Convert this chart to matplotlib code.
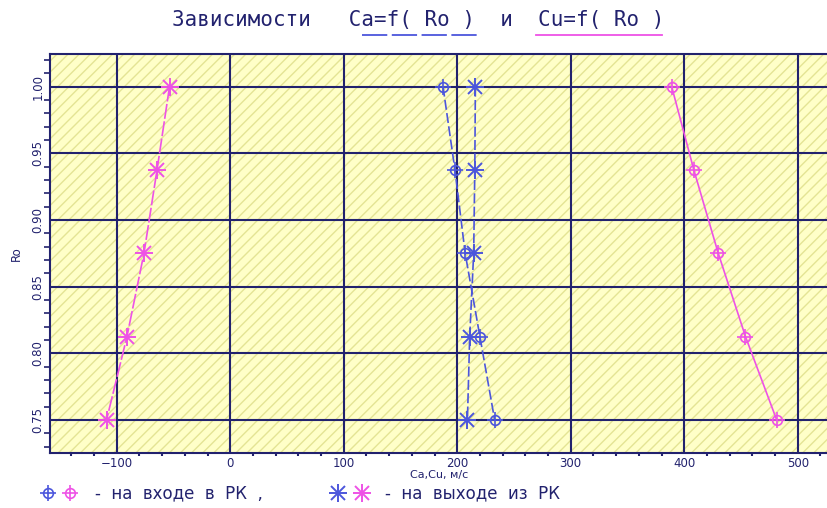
import matplotlib
matplotlib.use("Agg")
import matplotlib.pyplot as plt
from matplotlib.lines import Line2D
from matplotlib.patches import Rectangle
from matplotlib.ticker import MultipleLocator, FormatStrFormatter

# значения по высоте лопатки
ro = [1.0, 0.9375, 0.875, 0.8125, 0.75]

# осевая и окружная составляющие скорости, м/с
ca_in = [187.5, 198, 207, 220, 233]
ca_out = [216, 215.5, 214.5, 211, 209]
cu_in = [389, 408.5, 430, 454, 481.5]
cu_out = [-53.5, -64.5, -76, -91, -109]

NAVY = "#22226e"
BLUE = "#4c56dc"
MAGENTA = "#ee52e6"

plt.rcParams["font.family"] = ["DejaVu Sans"]
plt.rcParams["hatch.color"] = "#e4e494"
plt.rcParams["hatch.linewidth"] = 1.0

fig = plt.figure(figsize=(8.28, 5.08), dpi=100)
ax = fig.add_axes([50 / 828, 55 / 508, 778 / 828, 399 / 508])

# жёлтый фон со штриховкой
ax.patch.set_visible(False)
ax.add_patch(Rectangle((0, 0), 1, 1, transform=ax.transAxes, facecolor="#ffffc8",
                       edgecolor="#e4e494", hatch="///", linewidth=0, zorder=0))

ax.set_xlim(-158.8, 526.7)
ax.set_ylim(0.7252, 1.0245)

ax.xaxis.set_major_locator(MultipleLocator(100))
ax.xaxis.set_minor_locator(MultipleLocator(20))
ax.yaxis.set_major_locator(MultipleLocator(0.05))
ax.yaxis.set_minor_locator(MultipleLocator(0.01))
ax.yaxis.set_major_formatter(FormatStrFormatter("%.2f"))

ax.grid(True, which="major", color=NAVY, linewidth=1.5, zorder=1)
ax.set_axisbelow(True)
for side in ["left", "bottom", "top"]:
    ax.spines[side].set_color(NAVY)
    ax.spines[side].set_linewidth(1.5)
ax.spines["right"].set_visible(False)

ax.tick_params(axis="both", which="both", colors=NAVY, direction="out")
ax.tick_params(axis="x", which="major", length=0, labelsize=8.5, pad=3)
ax.tick_params(axis="x", which="minor", length=2, width=1.5)
ax.tick_params(axis="y", which="major", length=0, labelsize=8.5, pad=4)
ax.tick_params(axis="y", which="minor", length=4, width=1.2)
for lbl in ax.get_yticklabels():
    lbl.set_rotation(90)
    lbl.set_va("center")

ax.set_xlabel("Ca,Cu, м/с", color=NAVY, fontsize=8, labelpad=0)
ax.set_ylabel("Ro", color=NAVY, fontsize=8.5, labelpad=6)


def circ_plus(x, y, color, ls):
    ax.plot(x, y, color=color, linestyle=ls, linewidth=1.2, zorder=3)
    ax.plot(x, y, linestyle="none", marker="o", markersize=7, fillstyle="none",
            markeredgecolor=color, markeredgewidth=1.2, zorder=4)
    ax.plot(x, y, linestyle="none", marker="+", markersize=11,
            markeredgecolor=color, markeredgewidth=1.2, zorder=4)


def star(x, y, color, ls):
    ax.plot(x, y, color=color, linestyle=ls, linewidth=1.2, zorder=3)
    ax.plot(x, y, linestyle="none", marker="+", markersize=13,
            markeredgecolor=color, markeredgewidth=1.4, zorder=4)
    ax.plot(x, y, linestyle="none", marker="x", markersize=10,
            markeredgecolor=color, markeredgewidth=1.4, zorder=4)


dashed = (0, (6, 2))
circ_plus(ca_in, ro, BLUE, dashed)
star(ca_out, ro, BLUE, dashed)
circ_plus(cu_in, ro, MAGENTA, "-")
star(cu_out, ro, MAGENTA, (0, (9, 1.5)))

# заголовок с подчёркиваниями-обозначениями линий
fig.text(172 / 828, 1 - 20 / 508, "Зависимости   Ca=f( Ro )  и  Cu=f( Ro )",
         ha="left", va="center", color=NAVY, fontsize=15,
         family="DejaVu Sans Mono")
fig.add_artist(Line2D([362 / 828, 480 / 828], [1 - 35 / 508] * 2,
                      color=BLUE, linewidth=1.3, linestyle=(0, (14, 2.5))))
fig.add_artist(Line2D([536 / 828, 662 / 828], [1 - 35 / 508] * 2,
                      color=MAGENTA, linewidth=1.3))

# пояснение к маркерам
ly = 1 - 493 / 508


def fig_marker(xp, color, kind):
    xx = [xp / 828]
    if kind == "circ":
        fig.add_artist(Line2D(xx, [ly], marker="o", markersize=7, fillstyle="none",
                              markeredgecolor=color, markeredgewidth=1.2))
        fig.add_artist(Line2D(xx, [ly], marker="+", markersize=11,
                              markeredgecolor=color, markeredgewidth=1.2))
    else:
        fig.add_artist(Line2D(xx, [ly], marker="+", markersize=13,
                              markeredgecolor=color, markeredgewidth=1.4))
        fig.add_artist(Line2D(xx, [ly], marker="x", markersize=10,
                              markeredgecolor=color, markeredgewidth=1.4))


fig_marker(48, BLUE, "circ")
fig_marker(70, MAGENTA, "circ")
fig.text(95 / 828, ly, "-  на  входе  в  РК  ,", ha="left", va="center",
         color=NAVY, fontsize=12)
fig_marker(338, BLUE, "star")
fig_marker(362, MAGENTA, "star")
fig.text(385 / 828, ly, "-  на  выходе  из  РК", ha="left", va="center",
         color=NAVY, fontsize=12)

fig.savefig("out.png", dpi=100, facecolor="white")
